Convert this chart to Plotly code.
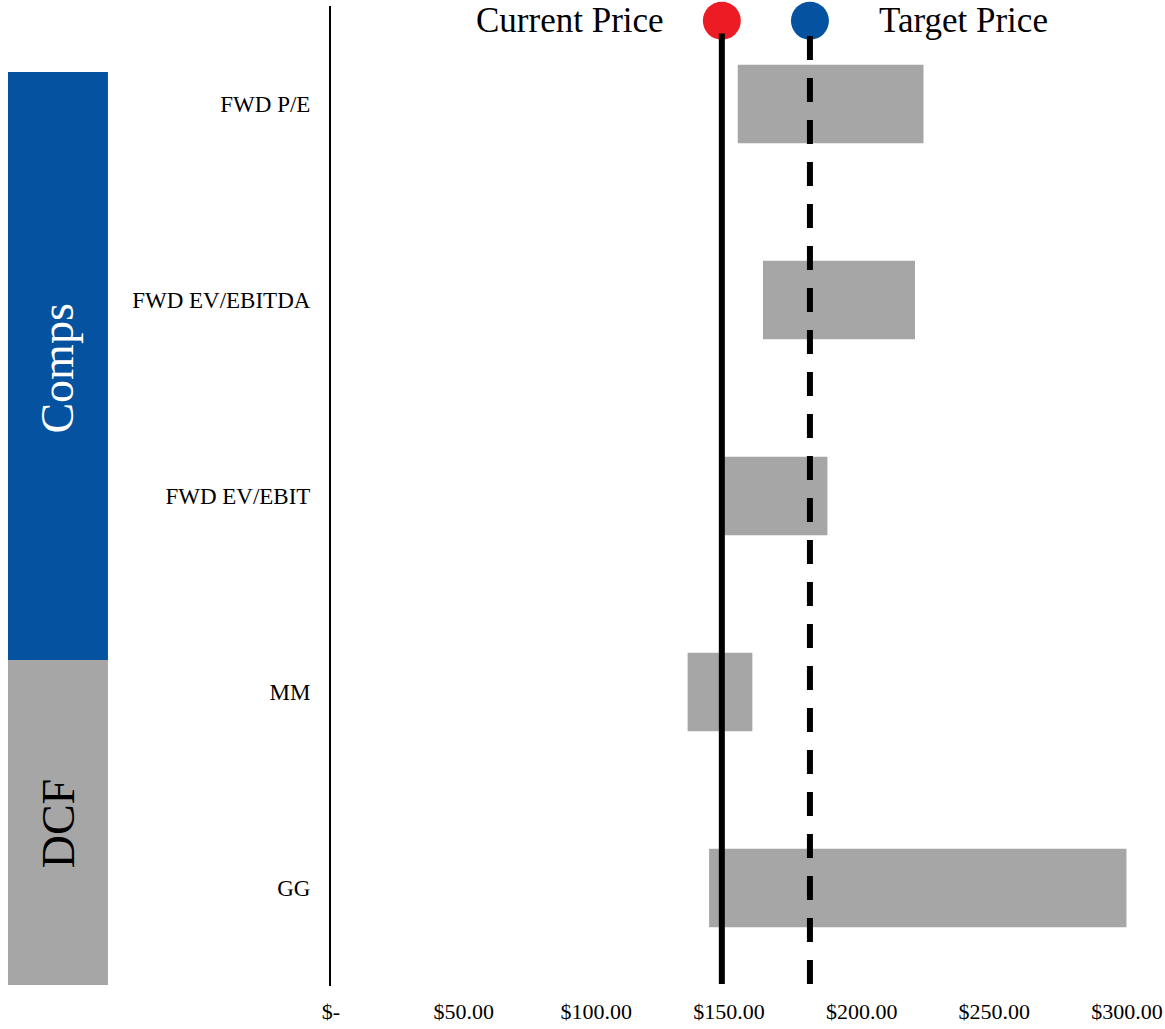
import plotly.graph_objects as go

categories = ["FWD P/E", "FWD EV/EBITDA", "FWD EV/EBIT", "MM", "GG"]
low_values = [153.3, 162.8, 147.9, 134.4, 142.5]
high_values = [223.3, 220.1, 187.1, 158.8, 299.8]
current_price = 147.3
target_price = 180.5
tick_values = [0, 50, 100, 150, 200, 250, 300]
tick_labels = ["$-", "$50.00", "$100.00", "$150.00", "$200.00", "$250.00", "$300.00"]

FONT = "Liberation Serif"
GREY = "#A6A6A6"
BLUE = "#0452A0"
RED = "#ED1C24"

fig = go.Figure()
fig.add_trace(go.Bar(
    y=categories,
    x=[h - l for l, h in zip(low_values, high_values)],
    base=low_values,
    orientation="h",
    marker=dict(color=GREY, line=dict(width=0)),
    width=0.4,
    showlegend=False,
    hoverinfo="skip",
))

# legend markers on an overlay axis
fig.add_trace(go.Scatter(
    x=[current_price, target_price], y=[0.985, 0.985],
    xaxis="x", yaxis="y2", mode="markers",
    marker=dict(size=38, color=[RED, BLUE], line=dict(width=0)),
    cliponaxis=False, showlegend=False, hoverinfo="skip",
))

shapes = [
    dict(type="line", xref="x", yref="paper", x0=current_price, x1=current_price,
         y0=0.002, y1=0.972, line=dict(color="black", width=6)),
    dict(type="line", xref="x", yref="paper", x0=target_price, x1=target_price,
         y0=0.002, y1=0.972, line=dict(color="black", width=6, dash="24px,18px")),
    dict(type="rect", xref="paper", yref="paper", x0=-0.4058, x1=-0.2802,
         y0=0.3327, y1=0.9327, fillcolor=BLUE, line=dict(width=0), layer="above"),
    dict(type="rect", xref="paper", yref="paper", x0=-0.4058, x1=-0.2802,
         y0=0.001, y1=0.3327, fillcolor=GREY, line=dict(width=0), layer="above"),
]

annotations = [
    dict(text="Current Price", xref="x", yref="paper", x=current_price, y=0.985,
         xanchor="right", yanchor="middle", xshift=-56, showarrow=False,
         font=dict(family=FONT, size=35, color="black")),
    dict(text="Target Price", xref="x", yref="paper", x=target_price, y=0.985,
         xanchor="left", yanchor="middle", xshift=67, showarrow=False,
         font=dict(family=FONT, size=35, color="black")),
    dict(text="Comps", xref="paper", yref="paper", x=-0.343, y=0.63,
         textangle=-90, showarrow=False, xanchor="center", yanchor="middle",
         font=dict(family=FONT, size=46, color="white")),
    dict(text="DCF", xref="paper", yref="paper", x=-0.343, y=0.166,
         textangle=-90, showarrow=False, xanchor="center", yanchor="middle",
         font=dict(family=FONT, size=46, color="black")),
]

fig.update_layout(
    width=1165, height=1029,
    margin=dict(l=331, r=38, t=6, b=43, autoexpand=False),
    plot_bgcolor="white", paper_bgcolor="white",
    bargap=0.6,
    shapes=shapes,
    annotations=annotations,
    font=dict(family=FONT, color="black"),
    xaxis=dict(range=[0, 300], tickvals=tick_values, ticktext=tick_labels,
               showgrid=False, zeroline=False, showline=False, automargin=False,
               tickfont=dict(family=FONT, size=22, color="black"),
               ticks="", ticklabelstandoff=10),
    yaxis=dict(categoryorder="array", categoryarray=categories[::-1],
               showgrid=False, zeroline=False, showline=True, automargin=False,
               linecolor="black", linewidth=2, ticks="",
               tickfont=dict(family=FONT, size=23, color="black"),
               ticklabelstandoff=14),
    yaxis2=dict(range=[0, 1], overlaying="y", visible=False, fixedrange=True),
)

fig.write_html("out.html")
